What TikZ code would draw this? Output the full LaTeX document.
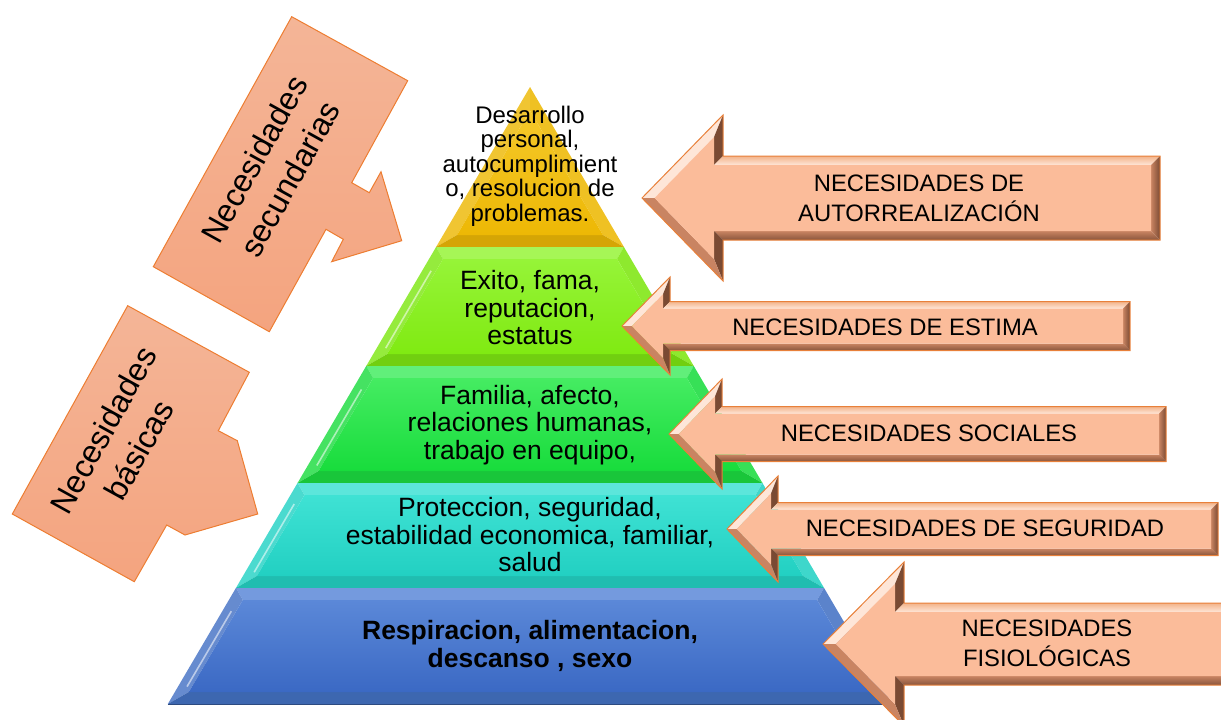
\documentclass[tikz,border=0pt]{standalone}
\usepackage{fontspec}
\setmainfont{Liberation Sans}
\usetikzlibrary{calc}

\definecolor{arrbase}{HTML}{FBBC9A}
\definecolor{arrlight}{HTML}{FEE6D8}
\definecolor{arrdark}{HTML}{7A4A33}
\definecolor{arrmid}{HTML}{C98462}
\definecolor{arrline}{HTML}{E8803A}
\definecolor{calltop}{HTML}{F4B597}
\definecolor{callbot}{HTML}{F4A47F}
\definecolor{callline}{HTML}{ED7D31}
\definecolor{yelbase}{HTML}{EDB805}
\definecolor{yeltop}{HTML}{F5C82A}
\definecolor{yelbot}{HTML}{EDB805}
\definecolor{limebase}{HTML}{7EE612}
\definecolor{limetop}{HTML}{96F438}
\definecolor{limebot}{HTML}{80EA12}
\definecolor{grnbase}{HTML}{1CDC40}
\definecolor{grntop}{HTML}{45EC62}
\definecolor{grnbot}{HTML}{18DC3C}
\definecolor{tealbase}{HTML}{24D2C4}
\definecolor{tealtop}{HTML}{3FE2D4}
\definecolor{tealbot}{HTML}{22D0C2}
\definecolor{bluebase}{HTML}{4472C4}
\definecolor{bluetop}{HTML}{5B88D8}
\definecolor{bluebot}{HTML}{3B69C4}

\newcommand\pyrlayer[5]{%
  \pgfmathsetmacro\pyHT{0.587*(#1-87)}%
  \pgfmathsetmacro\pyHB{0.587*(#2-87)}%
  \pgfmathsetmacro\pyIT{#1+12}%
  \pgfmathsetmacro\pyIB{#2-12}%
  \pgfmathsetmacro\pyIHT{0.587*(\pyIT-87)-1.16*12}%
  \pgfmathsetmacro\pyIHB{0.587*(\pyIB-87)-1.16*12}%
  \pgfmathsetmacro\pyXa{530-\pyHT}\pgfmathsetmacro\pyXb{530+\pyHT}%
  \pgfmathsetmacro\pyXc{530+\pyHB}\pgfmathsetmacro\pyXd{530-\pyHB}%
  \pgfmathsetmacro\pyXe{530-\pyIHT}\pgfmathsetmacro\pyXf{530+\pyIHT}%
  \pgfmathsetmacro\pyXg{530+\pyIHB}\pgfmathsetmacro\pyXh{530-\pyIHB}%
  \fill[#4!85!white] (\pyXa,#1) -- (\pyXb,#1) -- (\pyXf,\pyIT) -- (\pyXe,\pyIT) -- cycle;
  \fill[#3!82!white] (\pyXa,#1) -- (\pyXe,\pyIT) -- (\pyXh,\pyIB) -- (\pyXd,#2) -- cycle;
  \fill[#3!88!white] (\pyXb,#1) -- (\pyXc,#2) -- (\pyXg,\pyIB) -- (\pyXf,\pyIT) -- cycle;
  \fill[#3!90!black] (\pyXd,#2) -- (\pyXh,\pyIB) -- (\pyXg,\pyIB) -- (\pyXc,#2) -- cycle;
  \shade[top color=#4,bottom color=#5] (\pyXe,\pyIT) -- (\pyXf,\pyIT) -- (\pyXg,\pyIB) -- (\pyXh,\pyIB) -- cycle;
  \draw[white, opacity=0.55, line width=1.6] ($(\pyXa,#1)!0.2!(\pyXd,#2)+(9,0)$) -- ($(\pyXa,#1)!0.85!(\pyXd,#2)+(9,0)$);
  \draw[#3!65!black, line width=0.8] (\pyXd,#2) -- (\pyXc,#2);
}

\newcommand\bevarrow[7]{%
  \pgfmathsetmacro\arL{#3-#1}%
  \pgfmathsetmacro\arS{sqrt(1+(#4/\arL)^2)}%
  \pgfmathsetmacro\arQa{#1+#7*sqrt((\arL/#4)^2+1)}%
  \pgfmathsetmacro\arQbY{#2-(\arL-#7)*#4/\arL+#7*\arS}%
  \pgfmathsetmacro\arQgY{#2+(\arL-#7)*#4/\arL-#7*\arS}%
  \pgfmathsetmacro\arXbi{#3-#7}%
  \pgfmathsetmacro\arXri{#6-#7}%
  \pgfmathsetmacro\arYt{#2-#5}\pgfmathsetmacro\arYti{#2-#5+#7}%
  \pgfmathsetmacro\arYb{#2+#5}\pgfmathsetmacro\arYbi{#2+#5-#7}%
  \pgfmathsetmacro\arHt{#2-#4}\pgfmathsetmacro\arHb{#2+#4}%
  \fill[arrlight] (#1,#2) -- (#3,\arHt) -- (\arXbi,\arQbY) -- (\arQa,#2) -- cycle;
  \fill[arrdark] (#3,\arHt) -- (#3,\arYt) -- (\arXbi,\arYti) -- (\arXbi,\arQbY) -- cycle;
  \shade[top color=arrline!50!arrlight, bottom color=arrlight] (#3,\arYt) -- (#6,\arYt) -- (\arXri,\arYti) -- (\arXbi,\arYti) -- cycle;
  \shade[left color=arrmid, right color=arrdark] (#6,\arYt) -- (#6,\arYb) -- (\arXri,\arYbi) -- (\arXri,\arYti) -- cycle;
  \shade[top color=arrmid, bottom color=arrdark!80!arrmid] (#6,\arYb) -- (#3,\arYb) -- (\arXbi,\arYbi) -- (\arXri,\arYbi) -- cycle;
  \fill[arrdark] (#3,\arYb) -- (#3,\arHb) -- (\arXbi,\arQgY) -- (\arXbi,\arYbi) -- cycle;
  \fill[arrmid] (#3,\arHb) -- (#1,#2) -- (\arQa,#2) -- (\arXbi,\arQgY) -- cycle;
  \fill[arrbase] (\arQa,#2) -- (\arXbi,\arQbY) -- (\arXbi,\arYti) -- (\arXri,\arYti) -- (\arXri,\arYbi) -- (\arXbi,\arYbi) -- (\arXbi,\arQgY) -- cycle;
  \draw[arrline, line width=1, line join=miter] (#1,#2) -- (#3,\arHt) -- (#3,\arYt) -- (#6,\arYt) -- (#6,\arYb) -- (#3,\arYb) -- (#3,\arHb) -- cycle;
}

\begin{document}
\begin{tikzpicture}[x=1pt,y=-1pt,
  lvltext/.style={align=center, inner sep=0pt, text=black, font=\fontsize{26.5}{27.5}\selectfont},
  arrtext/.style={align=center, inner sep=0pt, text=black, font=\fontsize{23.8}{30}\selectfont},
  calltext/.style={align=center, inner sep=0pt, text=black, rotate=61, font=\fontsize{32}{41}\selectfont},
  callshape/.style={top color=calltop, bottom color=callbot, draw=callline, line width=1}]
\useasboundingbox (0,0) rectangle (1221,720);
\clip (0,0) rectangle (1221,720);

% pyramid top triangle
\pgfmathsetmacro\tiHB{0.587*(247-87)}
\pgfmathsetmacro\tiIHB{0.587*(235-87)-1.16*12}
\fill[yelbase!82!white] (530,87) -- (530,110.7) -- (530-\tiIHB,235) -- (530-\tiHB,247) -- cycle;
\fill[yelbase!88!white] (530,87) -- (530+\tiHB,247) -- (530+\tiIHB,235) -- (530,110.7) -- cycle;
\fill[yelbase!90!black] (530-\tiHB,247) -- (530-\tiIHB,235) -- (530+\tiIHB,235) -- (530+\tiHB,247) -- cycle;
\shade[top color=yeltop, bottom color=yelbot] (530,110.7) -- (530+\tiIHB,235) -- (530-\tiIHB,235) -- cycle;
\draw[yelbase!65!black, line width=0.8] (530-\tiHB,247) -- (530+\tiHB,247);

\pyrlayer{247}{366}{limebase}{limetop}{limebot}
\pyrlayer{366}{483}{grnbase}{grntop}{grnbot}
\pyrlayer{483}{588}{tealbase}{tealtop}{tealbot}
\pyrlayer{588}{704}{bluebase}{bluetop}{bluebot}

\node[lvltext, font=\fontsize{24}{24.5}\selectfont] (l1) at (530,166) {Desarrollo\\personal,\\autocumplimient\\o, resolucion de\\problemas.};
\node[lvltext] (l2) at (530,308) {Exito, fama,\\reputacion,\\estatus};
\node[lvltext] (l3) at (530,425) {Familia, afecto,\\relaciones humanas,\\trabajo en equipo,};
\node[lvltext] (l4) at (530,535) {Proteccion, seguridad,\\estabilidad economica, familiar,\\salud};
\node[lvltext, font=\fontsize{26.5}{28}\selectfont\bfseries] (l5) at (530,646) {Respiracion, alimentacion,\\descanso , sexo};

% right arrows
\bevarrow{642}{198}{723}{83}{42}{1160}{9}
\bevarrow{622}{326}{670}{49}{24.5}{1130}{7}
\bevarrow{669}{434}{722}{55}{27.5}{1166}{7}
\bevarrow{727}{529}{778}{53}{26.5}{1218}{7}
\bevarrow{823}{644}{904}{82}{41}{1240}{9}

\node[arrtext] (a1) at (919,198) {NECESIDADES DE\\AUTORREALIZACIÓN};
\node[arrtext] (a2) at (885,327) {NECESIDADES DE ESTIMA};
\node[arrtext] (a3) at (929,433) {NECESIDADES SOCIALES};
\node[arrtext] (a4) at (985,528) {NECESIDADES DE SEGURIDAD};
\node[arrtext] (a5) at (1047,643) {NECESIDADES\\FISIOLÓGICAS};

% left callouts
\path[callshape] (291.7,16.7) -- (407.7,80.7) -- (351.7,182.7) -- (369.3,192.7) -- (381,171.7) -- (401.7,240.7) -- (331.7,261.7) -- (343.3,239.3) -- (326,229.3) -- (269.3,331.7) -- (153.3,266.7) -- cycle;
\path[callshape] (127.7,305.7) -- (249.3,372.3) -- (218.3,430.7) -- (237.3,440.7) -- (257.7,514) -- (185,535) -- (166.7,525) -- (134.3,581.7) -- (12.3,514) -- cycle;
\node[calltext] (c1) at (272,169) {Necesidades\\secundarias};
\node[calltext] (c2) at (121,440) {Necesidades\\básicas};
\end{tikzpicture}
\end{document}
